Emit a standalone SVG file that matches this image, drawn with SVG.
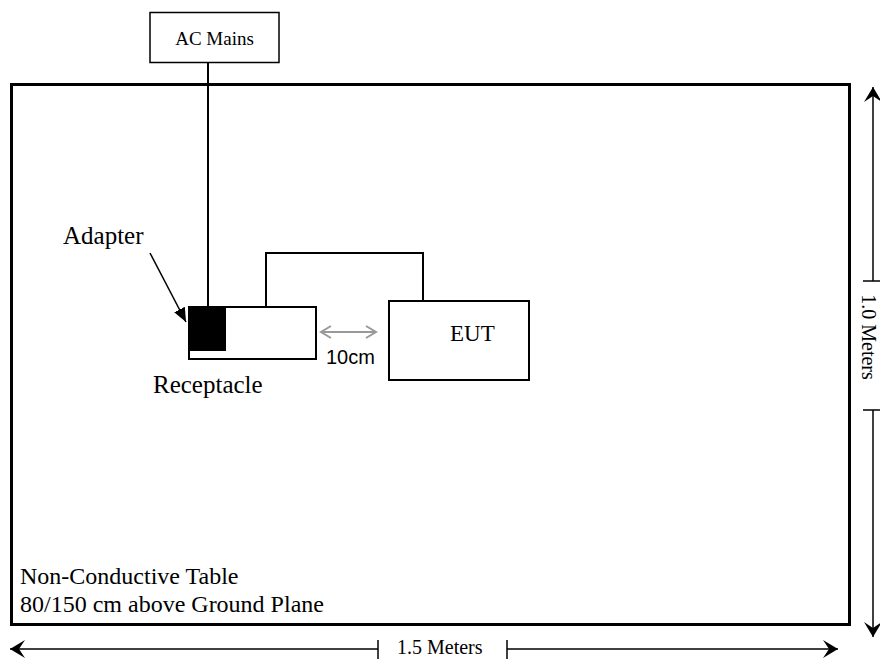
<svg xmlns="http://www.w3.org/2000/svg" width="880" height="659" viewBox="0 0 880 659">
<style>
.serif{font-family:"Liberation Serif","Times New Roman",serif;fill:#000}
.sans{font-family:"Liberation Sans",Arial,sans-serif;fill:#000}
.box{fill:#fff;stroke:#000;stroke-width:2}
.ln{fill:none;stroke:#000;stroke-width:2}
.dim{fill:none;stroke:#000;stroke-width:1.5}
</style>
<defs>
<marker id="barb" viewBox="-16 -10 18 20" markerWidth="18" markerHeight="20" refX="0" refY="0" orient="auto-start-reverse" markerUnits="userSpaceOnUse">
<path d="M0,0 L-15,-9 L-9,0 L-15,9 Z" fill="#000"/>
</marker>
<marker id="tri" viewBox="-14 -7 15 14" markerWidth="15" markerHeight="14" refX="0" refY="0" orient="auto" markerUnits="userSpaceOnUse">
<path d="M0,0 L-14,-6 L-14,6 Z" fill="#000"/>
</marker>
<marker id="gv" viewBox="-12 -8 14 16" markerWidth="14" markerHeight="16" refX="0" refY="0" orient="auto-start-reverse" markerUnits="userSpaceOnUse">
<path d="M-10,-6 L0,0 L-10,6" fill="none" stroke="#999" stroke-width="2"/>
</marker>
</defs>
<rect width="880" height="659" fill="#fff"/>

<g id="table">
<rect x="11.5" y="84.5" width="838" height="540" fill="none" stroke="#000" stroke-width="3"/>
<text class="serif" x="20" y="584" font-size="24">Non-Conductive Table</text>
<text class="serif" x="20" y="612" font-size="24">80/150 cm above Ground Plane</text>
</g>

<g id="connectors">
<line class="ln" x1="208" y1="63" x2="208" y2="306"/>
<path class="ln" d="M266,306 V253 H423 V301"/>
<line x1="150" y1="253" x2="186" y2="322" stroke="#000" stroke-width="1.5" marker-end="url(#tri)"/>
<line x1="321" y1="332" x2="376" y2="332" stroke="#999" stroke-width="2" marker-start="url(#gv)" marker-end="url(#gv)"/>
</g>

<g id="ac-mains">
<rect x="150" y="12.5" width="129" height="50" fill="#fff" stroke="#000" stroke-width="1.5"/>
<text class="serif" x="214.5" y="45" font-size="19" text-anchor="middle">AC Mains</text>
</g>

<g id="receptacle">
<rect class="box" x="189" y="307" width="127" height="52"/>
<rect x="188" y="306" width="38" height="45" fill="#000"/>
<text class="serif" x="153" y="393" font-size="25">Receptacle</text>
</g>

<g id="adapter-label">
<text class="serif" x="63" y="244" font-size="25">Adapter</text>
</g>

<g id="eut">
<rect class="box" x="389" y="301" width="140" height="79"/>
<text class="serif" x="450" y="341" font-size="23">EUT</text>
</g>

<g id="gap-label">
<text class="sans" x="326" y="364" font-size="20">10cm</text>
</g>

<g id="dim-width">
<line class="dim" x1="10" y1="649" x2="378" y2="649" marker-start="url(#barb)"/>
<line class="dim" x1="507" y1="649" x2="838" y2="649" marker-end="url(#barb)"/>
<line class="dim" x1="378" y1="640" x2="378" y2="659"/>
<line class="dim" x1="507" y1="640" x2="507" y2="659"/>
<text class="serif" x="397" y="654" font-size="20">1.5 Meters</text>
</g>

<g id="dim-height">
<line class="dim" x1="873" y1="87" x2="873" y2="281" marker-start="url(#barb)"/>
<line class="dim" x1="873" y1="410" x2="873" y2="637" marker-end="url(#barb)"/>
<line class="dim" x1="863" y1="281" x2="883" y2="281"/>
<line class="dim" x1="863" y1="410" x2="883" y2="410"/>
<text class="serif" x="0" y="0" font-size="20" text-anchor="middle" transform="translate(862 337) rotate(90)">1.0 Meters</text>
</g>
</svg>
